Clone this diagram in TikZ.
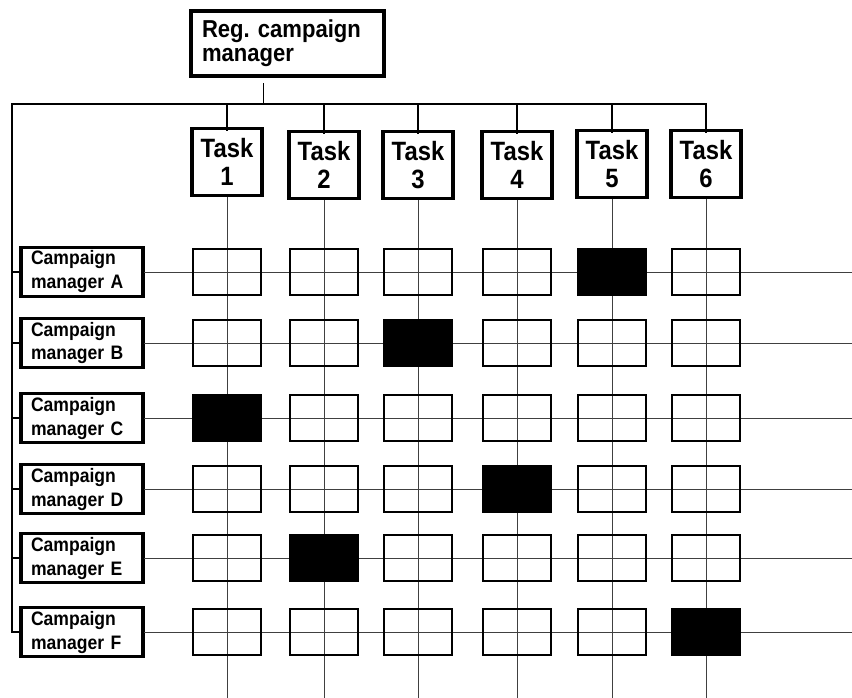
\documentclass[tikz,border=0pt]{standalone}
\usepackage{fontspec}
\setmainfont{Liberation Sans}
\newfontfamily\boxfont[FakeStretch=0.9]{Liberation Sans}
\usetikzlibrary{positioning}

\begin{document}
\begin{tikzpicture}[x=1pt,y=-1pt,line cap=rect,
    regbox/.style={draw,line width=4pt,font=\boxfont\fontsize{24.5}{24}\selectfont\bfseries,align=left,text width=171pt,inner xsep=11pt,minimum height=65pt},
    taskbox/.style={draw,line width=3.5pt,font=\boxfont\fontsize{26.5}{28}\selectfont\bfseries,align=center,minimum width=70pt,minimum height=67pt,inner sep=0pt},
    mgrbox/.style={draw,line width=3.5pt,font=\boxfont\fontsize{19.5}{24}\selectfont\bfseries,align=left,text width=102pt,inner xsep=10pt,minimum height=49pt,inner ysep=0pt},
    cell/.style={draw,line width=2pt,minimum width=68pt,minimum height=46pt,inner sep=0pt},
    grid/.style={black!75,line width=1pt}]
    \useasboundingbox (0,0) rectangle (852,698);
    \coordinate (bot) at (0,698);
    \coordinate (rgt) at (852,0);
    \coordinate (bar) at (12,104);

    \node[regbox] (reg) at (287.5,43.5) {Reg.\ campaign\\manager};

    \foreach \i/\x/\y in {1/227/162,2/324/165,3/418/165,4/517/165,5/612/164,6/706/164}
        \node[taskbox] (t\i) at (\x,\y) {Task\\\i};

    \foreach \r/\l/\y in {1/A/272,2/B/343,3/C/418,4/D/489,5/E/558,6/F/632}
        \node[mgrbox] (m\r) at (82,\y) {Campaign\\manager \l};

    % tree
    \draw[line width=1.5pt] ([xshift=-24pt,yshift=-6pt]reg.south) -- ([xshift=-24pt]reg.south |- bar);
    \draw[line width=1.5pt] (bar) -- (bar -| t6.north);
    \draw[line width=1.5pt] (bar) -- (bar |- m6.west);
    \foreach \i in {1,...,6}
        \draw[line width=1.5pt] (t\i.north |- bar) -- ([yshift=-4pt]t\i.north);
    \foreach \r in {1,...,6}
        \draw[line width=1.2pt] (bar |- m\r.west) -- (m\r.west);

    % matrix
    \foreach \i in {1,...,6}
        \draw[grid] (t\i.south) -- (t\i.south |- bot);
    \foreach \r in {1,...,6}
        \draw[grid] (m\r.east) -- (m\r.east -| rgt);
    \foreach \r/\k in {1/5,2/3,3/1,4/4,5/2,6/6}
        \foreach \i in {1,...,6} {
            \ifnum\i=\k \def\cellfill{black}\else\def\cellfill{none}\fi
            \node[cell,fill=\cellfill] (c\r\i) at (t\i.south |- m\r.east) {};
        }
\end{tikzpicture}
\end{document}
